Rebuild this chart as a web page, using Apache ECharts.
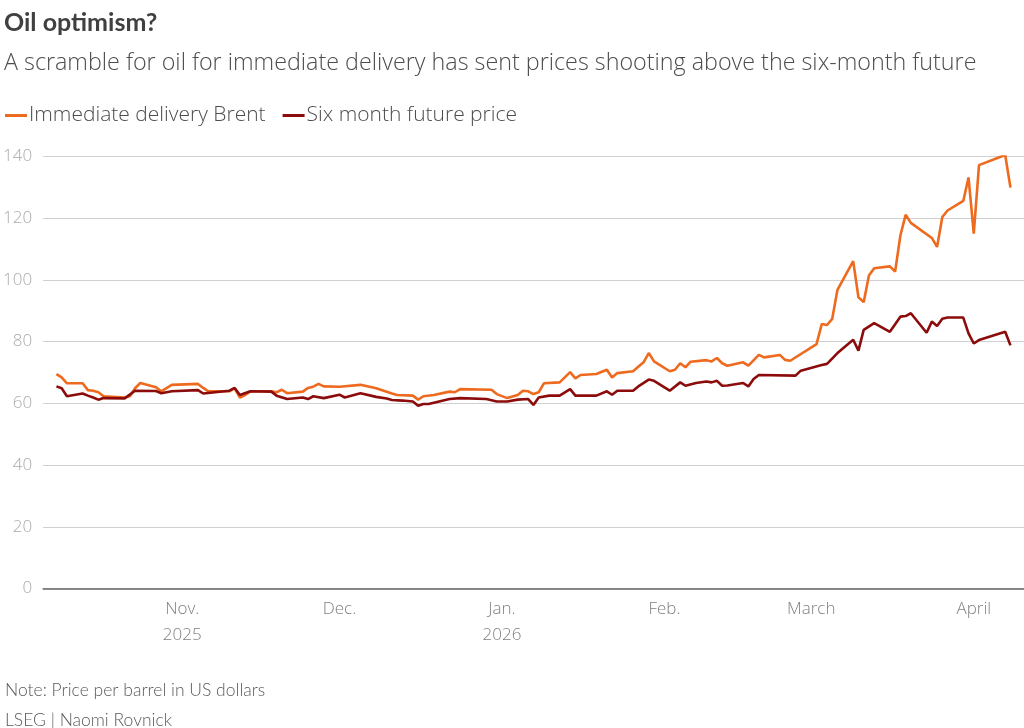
<!DOCTYPE html>
<html>
<head>
<meta charset="utf-8">
<title>Oil optimism?</title>
<script src="https://cdn.jsdelivr.net/npm/echarts@6/dist/echarts.min.js"></script>
<style>
  html, body { margin: 0; padding: 0; background: #fff; }
  #chart { width: 1024px; height: 728px; }
</style>
</head>
<body>
<div id="chart"></div>
<script>
// Immediate delivery Brent (dated Brent), USD per barrel
var brentDates = [
  '2025-10-08','2025-10-09','2025-10-10','2025-10-13','2025-10-14','2025-10-15','2025-10-16','2025-10-17',
  '2025-10-21','2025-10-22','2025-10-23','2025-10-24','2025-10-27','2025-10-28','2025-10-30',
  '2025-11-04','2025-11-05','2025-11-06','2025-11-10','2025-11-11','2025-11-12','2025-11-13','2025-11-14',
  '2025-11-18','2025-11-19','2025-11-20','2025-11-21','2025-11-24','2025-11-25','2025-11-26','2025-11-27','2025-11-28',
  '2025-12-01','2025-12-05','2025-12-08','2025-12-11','2025-12-12','2025-12-15','2025-12-16','2025-12-17','2025-12-19',
  '2025-12-22','2025-12-23','2025-12-24','2025-12-30','2025-12-31',
  '2026-01-02','2026-01-04','2026-01-05','2026-01-06','2026-01-07','2026-01-08','2026-01-09','2026-01-12',
  '2026-01-14','2026-01-15','2026-01-16','2026-01-19','2026-01-21','2026-01-22','2026-01-23','2026-01-26',
  '2026-01-28','2026-01-29','2026-01-30',
  '2026-02-02','2026-02-03','2026-02-04','2026-02-05','2026-02-06','2026-02-09','2026-02-10','2026-02-11','2026-02-12',
  '2026-02-13','2026-02-16','2026-02-17','2026-02-19','2026-02-20','2026-02-23','2026-02-24','2026-02-25',
  '2026-03-02','2026-03-03','2026-03-04','2026-03-05','2026-03-06','2026-03-09','2026-03-10','2026-03-11','2026-03-12','2026-03-13',
  '2026-03-16','2026-03-17','2026-03-18','2026-03-19','2026-03-20','2026-03-24','2026-03-25','2026-03-26','2026-03-27',
  '2026-03-30','2026-03-31','2026-04-01','2026-04-02','2026-04-07','2026-04-08'
];
var brentPrices = [
  69.5, 68.4, 66.5, 66.5, 64.3, 64.1, 63.6, 62.3,
  61.9, 62.3, 64.9, 66.6, 65.2, 63.9, 66.0,
  66.3, 65.0, 63.9, 63.9, 64.9, 61.9, 62.7, 63.9,
  63.9, 63.6, 64.4, 63.3, 63.8, 65.0, 65.4, 66.3, 65.5,
  65.4, 66.0, 64.9, 63.2, 62.7, 62.5, 61.2, 62.3, 62.7,
  63.8, 63.6, 64.6, 64.4, 63.0,
  61.7, 62.7, 64.1, 63.9, 63.0, 63.6, 66.5, 66.8,
  70.1, 68.1, 69.2, 69.5, 70.9, 68.4, 69.8, 70.4,
  73.3, 76.3, 73.6,
  70.4, 70.9, 73.0, 71.7, 73.5, 74.0, 73.6, 74.7, 73.0,
  72.2, 73.3, 72.2, 75.7, 74.9, 75.7, 74.1, 73.8,
  79.2, 85.7, 85.4, 87.4, 96.8, 106.1, 94.4, 92.8, 101.4, 103.8,
  104.4, 102.7, 114.4, 121.1, 118.5, 113.6, 110.7, 120.4, 122.5,
  125.6, 133.2, 115.0, 137.2, 140.5, 129.9
];

// Six month future price, USD per barrel
var futureDates = [
  '2025-10-08','2025-10-09','2025-10-10','2025-10-13','2025-10-14','2025-10-15','2025-10-16','2025-10-17',
  '2025-10-21','2025-10-23','2025-10-27','2025-10-28','2025-10-30',
  '2025-11-04','2025-11-05','2025-11-10','2025-11-11','2025-11-12','2025-11-14','2025-11-18','2025-11-19',
  '2025-11-21','2025-11-24','2025-11-25','2025-11-26','2025-11-28',
  '2025-12-01','2025-12-02','2025-12-05','2025-12-08','2025-12-10','2025-12-11','2025-12-13','2025-12-15',
  '2025-12-16','2025-12-17','2025-12-18','2025-12-22','2025-12-24','2025-12-29','2025-12-31',
  '2026-01-02','2026-01-04','2026-01-06','2026-01-07','2026-01-08','2026-01-10','2026-01-12','2026-01-14',
  '2026-01-15','2026-01-19','2026-01-21','2026-01-22','2026-01-23','2026-01-26','2026-01-27','2026-01-29','2026-01-30',
  '2026-02-02','2026-02-04','2026-02-05','2026-02-07','2026-02-09','2026-02-10','2026-02-11','2026-02-12',
  '2026-02-13','2026-02-16','2026-02-17','2026-02-18','2026-02-19','2026-02-26','2026-02-27',
  '2026-03-03','2026-03-04','2026-03-06','2026-03-09','2026-03-10','2026-03-11','2026-03-13','2026-03-16',
  '2026-03-18','2026-03-19','2026-03-20','2026-03-23','2026-03-24','2026-03-25','2026-03-26','2026-03-27',
  '2026-03-30','2026-03-31','2026-04-01','2026-04-02','2026-04-07','2026-04-08'
];
var futurePrices = [
  65.5, 64.9, 62.3, 63.2, 62.5, 61.9, 61.2, 61.7,
  61.6, 64.1, 64.0, 63.3, 63.9,
  64.3, 63.2, 64.1, 65.0, 62.7, 63.9, 63.8, 62.5,
  61.4, 61.9, 61.4, 62.3, 61.7,
  62.8, 61.9, 63.3, 62.1, 61.6, 61.1, 60.9, 60.6,
  59.2, 59.8, 59.8, 61.4, 61.7, 61.4, 60.6,
  60.6, 61.2, 61.4, 59.5, 61.9, 62.5, 62.5, 64.6,
  62.5, 62.5, 63.9, 62.8, 64.1, 64.1, 65.5, 67.7, 67.3,
  64.1, 66.8, 65.7, 66.6, 67.1, 66.8, 67.3, 65.7,
  65.8, 66.6, 65.5, 67.9, 69.2, 69.0, 70.6,
  72.4, 72.8, 76.3, 80.6, 77.1, 83.8, 86.0, 83.2,
  88.1, 88.3, 89.2, 82.9, 86.5, 85.1, 87.4, 87.8,
  87.8, 82.7, 79.4, 80.5, 83.2, 78.8
];

// x-axis ticks (month starts) and their labels
var tickDates = ['2025-11-01','2025-12-01','2026-01-01','2026-02-01','2026-03-01','2026-04-01'];
var tickLabels = ['Nov.\n2025','Dec.','Jan.\n2026','Feb.','March','April'];

var titleFont = 'Lato, "Noto Sans", sans-serif';
var font = '"Open Sans", "Noto Sans", sans-serif';

function pairs(dates, values) {
  return dates.map(function (d, i) { return [d, values[i]]; });
}

var tickKeys = tickDates.map(function (d) {
  var t = new Date(d + 'T00:00:00');
  return t.getFullYear() + '-' + t.getMonth();
});

var chart = echarts.init(document.getElementById('chart'), null, { renderer: 'canvas' });

chart.setOption({
  animation: false,
  backgroundColor: '#ffffff',
  title: [
    {
      text: 'Oil optimism?',
      left: -1, top: 5,
      textStyle: { fontFamily: titleFont, fontSize: 25, fontWeight: 'bold', color: '#404040' }
    },
    {
      text: 'A scramble for oil for immediate delivery has sent prices shooting above the six-month future',
      left: -1, top: 47,
      textStyle: { fontFamily: font, fontSize: 23.3, fontWeight: 300, color: '#4d4d4d' }
    },
    {
      text: 'Note: Price per barrel in US dollars',
      left: 0, top: 676,
      textStyle: { fontFamily: titleFont, fontSize: 17.5, fontWeight: 300, color: '#5a5a5a' }
    },
    {
      text: 'LSEG | Naomi Rovnick',
      left: 0, top: 706,
      textStyle: { fontFamily: titleFont, fontSize: 17.5, fontWeight: 300, color: '#5a5a5a' }
    }
  ],
  legend: {
    left: 0, top: 100,
    icon: 'rect',
    itemWidth: 22, itemHeight: 3,
    itemGap: 17,
    textStyle: { fontFamily: font, fontSize: 21, fontWeight: 300, color: '#4d4d4d', padding: [0, 0, 0, -3] },
    data: ['Immediate delivery Brent', 'Six month future price']
  },
  grid: { left: 40, right: 0, top: 156.5, bottom: 139.5, containLabel: false },
  xAxis: {
    type: 'time',
    min: '2025-10-05 11:00',
    max: '2026-04-10 14:00',
    minInterval: 28 * 86400000,
    maxInterval: 31 * 86400000,
    axisLine: { show: true, lineStyle: { color: '#666', width: 1.5 } },
    axisTick: { show: false },
    splitLine: { show: false },
    axisLabel: {
      showMinLabel: false,
      showMaxLabel: false,
      hideOverlap: false,
      margin: 8,
      fontFamily: font,
      fontSize: 17,
      fontWeight: 300,
      lineHeight: 26,
      color: '#808080',
      formatter: function (value) {
        var t = new Date(value);
        if (t.getDate() !== 1) return '';
        var i = tickKeys.indexOf(t.getFullYear() + '-' + t.getMonth());
        return i >= 0 ? tickLabels[i] : '';
      }
    }
  },
  yAxis: {
    type: 'value',
    min: 0, max: 140, interval: 20,
    axisLine: { show: false },
    axisTick: { show: false },
    axisLabel: { margin: 11, fontFamily: font, fontSize: 17, fontWeight: 300, color: '#aaaaaa' },
    splitLine: { lineStyle: { color: '#d0d0d0', width: 1.2 } }
  },
  series: [
    {
      name: 'Immediate delivery Brent',
      type: 'line',
      data: pairs(brentDates, brentPrices),
      showSymbol: false,
      color: '#ee6a1e',
      lineStyle: { color: '#ee6a1e', width: 2.6 },
      z: 3
    },
    {
      name: 'Six month future price',
      type: 'line',
      data: pairs(futureDates, futurePrices),
      showSymbol: false,
      color: '#8c0c0c',
      lineStyle: { color: '#8c0c0c', width: 2.6 },
      z: 4
    }
  ]
});
</script>
</body>
</html>
